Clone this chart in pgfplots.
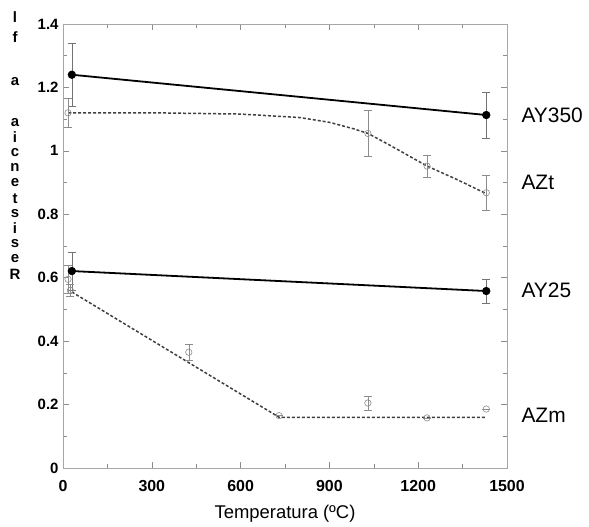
\documentclass[border=0pt]{standalone}
\usepackage{pgfplots}
\pgfplotsset{compat=1.18}
\usepackage{fontspec}
\setmainfont{Liberation Sans}
\tikzset{yl/.style={font=\fontsize{15}{15}\selectfont\bfseries, inner sep=0pt}}
\begin{document}
\begin{tikzpicture}
\begin{axis}[
  scale only axis, width=444bp, height=444bp,
  xmin=0, xmax=1500, ymin=0, ymax=1.4,
  xtick={0,300,600,900,1200,1500},
  ytick={0,0.2,0.4,0.6,0.8,1,1.2,1.4},
  minor x tick num=1, minor y tick num=1,
  tick align=inside,
  major tick length=6bp, minor tick length=4bp,
  axis line style={black!35, line width=0.8pt},
  every tick/.style={black!45, line width=0.6pt},
  /pgf/number format/assume math mode=true,
  /pgf/number format/1000 sep={},
  yticklabel style={font=\fontsize{15}{15}\selectfont\bfseries, xshift=-1bp},
  xticklabel style={font=\fontsize{16}{16}\selectfont\bfseries, yshift=-9bp},
  xlabel={Temperatura (ºC)},
  xlabel style={font=\fontsize{18.5}{18.5}\selectfont, yshift=-6bp},
  clip=false,
]
% AZt dashed curve
\addplot[black!75, line width=1.5bp, dash pattern=on 3bp off 2bp] coordinates {
 (17,1.12) (300,1.12) (600,1.116) (800,1.105) (900,1.09) (980,1.07) (1030,1.055) (1100,1.02) (1230,0.952) (1330,0.91) (1430,0.865)};
% AZm dashed line
\addplot[black!75, line width=1.5bp, dash pattern=on 3bp off 2bp] coordinates {
 (30,0.555) (730,0.16) (1430,0.16)};
% AY350
\addplot[black, line width=1.8bp, mark=*, mark size=3.2bp,
  error bars/.cd, y dir=both, y explicit,
  error bar style={black!55, line width=0.6pt},
  error mark options={rotate=90, black!55, mark size=4bp, line width=0.6pt}]
  table[x=x, y=y, y error=e] {
x y e
30 1.24 0.10
1430 1.113 0.072
};
% AY25
\addplot[black, line width=1.8bp, mark=*, mark size=3.2bp,
  error bars/.cd, y dir=both, y explicit,
  error bar style={black!55, line width=0.6pt},
  error mark options={rotate=90, black!55, mark size=4bp, line width=0.6pt}]
  table[x=x, y=y, y error=e] {
x y e
30 0.621 0.06
1430 0.558 0.038
};
% AZt markers
\addplot[only marks, mark=o, mark size=3.2bp, mark options={black!45, fill=white, line width=0.6pt},
  error bars/.cd, y dir=both, y explicit,
  error bar style={black!45, line width=0.6pt},
  error mark options={rotate=90, black!45, mark size=4bp, line width=0.6pt}]
  table[x=x, y=y, y error=e] {
x y e
17 1.12 0.045
1030 1.055 0.072
1230 0.952 0.035
1430 0.868 0.056
};
% AZm markers
\addplot[only marks, mark=o, mark size=3.2bp, mark options={black!45, fill=white, line width=0.6pt},
  error bars/.cd, y dir=both, y explicit,
  error bar style={black!45, line width=0.6pt},
  error mark options={rotate=90, black!45, mark size=4bp, line width=0.6pt}]
  table[x=x, y=y, y error=e] {
x y e
17 0.595 0.045
25 0.56 0.02
425 0.365 0.025
730 0.165 0
1030 0.205 0.022
1230 0.158 0
1430 0.186 0
};
% series names
\node[anchor=west, font=\fontsize{21}{21}\selectfont] at (axis cs:1500,1.113) [xshift=11bp] {AY350};
\node[anchor=west, font=\fontsize{21}{21}\selectfont] at (axis cs:1500,0.90) [xshift=11bp] {AZt};
\node[anchor=west, font=\fontsize{21}{21}\selectfont] at (axis cs:1500,0.56) [xshift=11bp] {AY25};
\node[anchor=west, font=\fontsize{21}{21}\selectfont] at (axis cs:1500,0.167) [xshift=11bp] {AZm};
% stacked y label letters
\node[yl] at (axis cs:-162,1.423) {l};
\node[yl] at (axis cs:-162,1.36) {f};
\node[yl] at (axis cs:-162,1.218) {a};
\node[yl] at (axis cs:-162,1.088) {a};
\node[yl] at (axis cs:-162,1.044) {i};
\node[yl] at (axis cs:-162,0.995) {c};
\node[yl] at (axis cs:-162,0.948) {n};
\node[yl] at (axis cs:-162,0.9) {e};
\node[yl] at (axis cs:-162,0.85) {t};
\node[yl] at (axis cs:-162,0.802) {s};
\node[yl] at (axis cs:-162,0.756) {i};
\node[yl] at (axis cs:-162,0.709) {s};
\node[yl] at (axis cs:-162,0.66) {e};
\node[yl] at (axis cs:-162,0.612) {R};
\end{axis}
\path[use as bounding box] (-63bp,-59bp) rectangle (526bp,468bp);
\end{tikzpicture}
\end{document}
